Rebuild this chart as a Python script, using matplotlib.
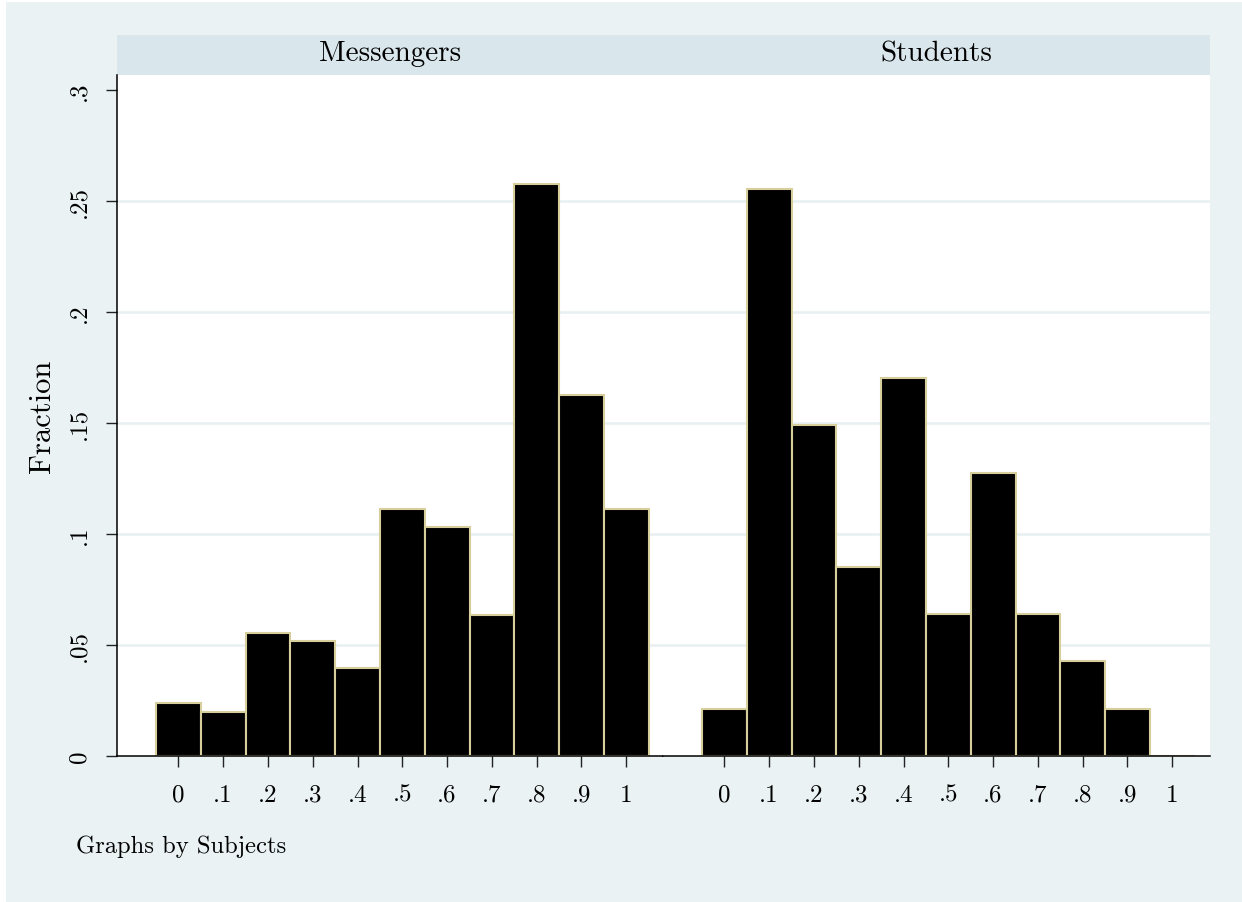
import matplotlib
matplotlib.use("Agg")
import matplotlib.pyplot as plt
from matplotlib.patches import Rectangle
import numpy as np

plt.rcParams['font.family'] = ['cmr10', 'DejaVu Serif']
plt.rcParams['axes.formatter.use_mathtext'] = True

# ---- data ----
bins = [0.0, 0.1, 0.2, 0.3, 0.4, 0.5, 0.6, 0.7, 0.8, 0.9, 1.0]
messengers = [0.0238, 0.0198, 0.0556, 0.0516, 0.0397, 0.1111, 0.1032, 0.0635, 0.2579, 0.1627, 0.1111]
students = [0.0213, 0.2553, 0.1489, 0.0851, 0.1702, 0.0638, 0.1277, 0.0638, 0.0426, 0.0213, 0.0]
panel_titles = ["Messengers", "Students"]
xticks = [0.0, 0.1, 0.2, 0.3, 0.4, 0.5, 0.6, 0.7, 0.8, 0.9, 1.0]
xticklabels = ["0", ".1", ".2", ".3", ".4", ".5", ".6", ".7", ".8", ".9", "1"]
yticks = [0.0, 0.05, 0.1, 0.15, 0.2, 0.25, 0.3]
yticklabels = ["0", ".05", ".1", ".15", ".2", ".25", ".3"]

W, H = 1242, 903
fig = plt.figure(figsize=(W / 100, H / 100), dpi=100)
fig.patch.set_facecolor('white')

BG = '#EAF2F3'
STRIP = '#D9E6EB'
GRID = '#E8F0F2'
EDGE = '#D6CF9C'

def fx(px):
    return px / W

def fy(py):
    return 1 - py / H

# outer background
fig.patches.append(Rectangle((fx(6), 0), 1 - fx(6), fy(3), transform=fig.transFigure,
                             facecolor=BG, edgecolor='none', zorder=-10))
# strip
fig.patches.append(Rectangle((fx(117), fy(76)), fx(1210) - fx(117), fy(36) - fy(76),
                             transform=fig.transFigure, facecolor=STRIP, edgecolor='none', zorder=-5))

top, bot = 76, 757
panels = [(117, 663), (663, 1210)]
datasets = [messengers, students]
xlim = (-0.137, 1.082)
ylim = (0.0, 0.3068)

for i, ((x0, x1), vals, title) in enumerate(zip(panels, datasets, panel_titles)):
    ax = fig.add_axes([fx(x0), fy(bot), fx(x1) - fx(x0), fy(top) - fy(bot)])
    ax.set_facecolor('white')
    ax.bar(bins, vals, width=0.1, align='center', color='black', edgecolor=EDGE,
           linewidth=1.5, zorder=3)
    ax.set_xlim(xlim[0], xlim[0] + (xlim[1] - xlim[0]) * (x1 - x0) / 546)
    ax.set_ylim(*ylim)
    for yv in yticks[1:-1]:
        ax.axhline(yv, color=GRID, lw=1.8, zorder=1)
    ax.set_xticks(xticks)
    ax.set_xticklabels(xticklabels, fontsize=18)
    ax.tick_params(axis='x', direction='out', length=8, width=1.0, color='#222222', pad=12)
    for s in ['top', 'right']:
        ax.spines[s].set_visible(False)
    ax.spines['bottom'].set_linewidth(1.1)
    ax.spines['bottom'].set_zorder(5)
    if i == 0:
        ax.set_yticks(yticks)
        ax.set_yticklabels(yticklabels, fontsize=18, rotation=90, va='center')
        ax.tick_params(axis='y', direction='out', length=8, width=1.0, color='#222222', pad=11)
        ax.spines['left'].set_linewidth(1.1)
    else:
        ax.spines['left'].set_visible(False)
        ax.set_yticks([])
    fig.text(fx((x0 + x1) / 2), fy(61), title, ha='center', va='baseline', fontsize=21)

fig.text(fx(42), fy((top + bot) / 2), "Fraction", rotation=90, ha='center', va='center', fontsize=22)
fig.text(fx(76), fy(847), "Graphs by Subjects", ha='left', va='center', fontsize=17.7)

fig.savefig("out.png", dpi=100, facecolor=fig.get_facecolor())
